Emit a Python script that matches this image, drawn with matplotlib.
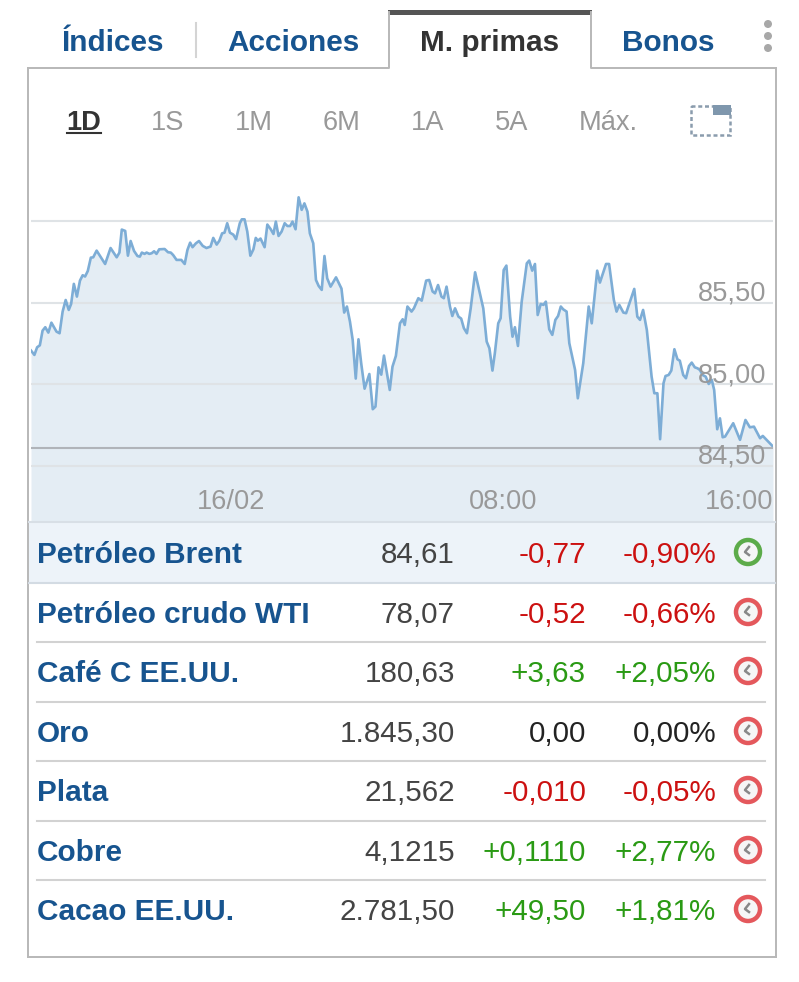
import matplotlib.pyplot as plt
from matplotlib.patches import Circle, Rectangle

plt.rcParams['font.family'] = ['Liberation Sans', 'DejaVu Sans']

# pestañas y periodos
tabs = ['Índices', 'Acciones', 'M. primas', 'Bonos']
periods = ['1D', '1S', '1M', '6M', '1A', '5A', 'Máx.']

# tabla
names = ['Petróleo Brent', 'Petróleo crudo WTI', 'Café C EE.UU.', 'Oro', 'Plata', 'Cobre', 'Cacao EE.UU.']
last = ['84,61', '78,07', '180,63', '1.845,30', '21,562', '4,1215', '2.781,50']
change = ['-0,77', '-0,52', '+3,63', '0,00', '-0,010', '+0,1110', '+49,50']
percent = ['-0,90%', '-0,66%', '+2,05%', '0,00%', '-0,05%', '+2,77%', '+1,81%']

# gráfico: horas desde las 00:00 del 16/02 y precio
hours = [
    -5.88, -5.78, -5.70, -5.62, -5.54, -5.46, -5.37, -5.28, -5.13, -5.04, -4.95, -4.86, -4.77, -4.70, -4.62,
    -4.53, -4.44, -4.36, -4.29, -4.21, -4.12, -4.05, -3.95, -3.70, -3.54, -3.36, -3.28, -3.21, -3.11, -3.03,
    -2.95, -2.85, -2.75, -2.68, -2.62, -2.54, -2.48, -2.40, -2.33, -2.26, -2.19, -2.11, -1.95, -1.85, -1.77,
    -1.70, -1.60, -1.46, -1.36, -1.28, -1.20, -1.13, -1.03, -0.94, -0.83, -0.72, -0.60, -0.52, -0.42, -0.34,
    -0.26, -0.19, -0.11, -0.03, 0.07, 0.15, 0.26, 0.32, 0.40, 0.48, 0.57, 0.66, 0.73, 0.79, 0.87,
    0.99, 1.07, 1.17, 1.25, 1.32, 1.40, 1.49, 1.58, 1.66, 1.74, 1.81, 1.90, 1.99, 2.08, 2.16,
    2.25, 2.32, 2.42, 2.50, 2.58, 2.67, 2.75, 2.83, 2.93, 3.09, 3.25, 3.33, 3.41, 3.50, 3.58,
    3.67, 3.75, 3.83, 3.93, 4.07, 4.17, 4.25, 4.34, 4.42, 4.50, 4.67, 4.75, 4.85, 4.97,
    5.05, 5.11, 5.19, 5.31, 5.38, 5.51, 5.61, 5.74, 5.83, 5.93, 6.00, 6.09, 6.19, 6.26, 6.34,
    6.44, 6.51, 6.59, 6.69, 6.77, 6.85, 6.94, 7.05, 7.18, 7.42, 7.52, 7.60, 7.69, 7.76, 7.86,
    7.93, 8.02, 8.10, 8.21, 8.28, 8.35, 8.44, 8.55, 8.70, 8.77, 8.86, 8.94, 9.02, 9.11, 9.19,
    9.26, 9.36, 9.45, 9.54, 9.62, 9.70, 9.77, 9.87, 9.95, 10.12, 10.20, 10.36, 10.52, 10.61, 10.77,
    10.85, 11.03, 11.12, 11.26, 11.34, 11.42, 11.54, 11.62, 11.86, 11.95, 12.03, 12.12, 12.23, 12.37, 12.45,
    12.54, 12.62, 12.72, 12.78, 12.87, 12.95, 13.04, 13.13, 13.20, 13.30, 13.38, 13.47, 13.55, 13.64, 13.72,
    13.79, 13.87, 13.96, 14.05, 14.14, 14.21, 14.30, 14.38, 14.46, 14.53, 14.77, 14.97, 15.13, 15.26, 15.38,
    15.56, 15.64, 15.75, 15.94,
]
prices = [
    85.208, 85.181, 85.228, 85.240, 85.330, 85.351, 85.318, 85.379, 85.324, 85.314, 85.447, 85.518, 85.457, 85.494, 85.617,
    85.539, 85.637, 85.670, 85.662, 85.696, 85.778, 85.780, 85.821, 85.739, 85.837, 85.780, 85.809, 85.950, 85.942, 85.790,
    85.880, 85.819, 85.788, 85.784, 85.809, 85.801, 85.809, 85.801, 85.805, 85.817, 85.801, 85.829, 85.831, 85.811, 85.809,
    85.794, 85.764, 85.764, 85.739, 85.825, 85.870, 85.842, 85.866, 85.880, 85.850, 85.837, 85.846, 85.899, 85.858, 85.882,
    85.927, 85.931, 85.989, 85.931, 85.919, 85.891, 85.989, 86.013, 86.013, 85.938, 85.790, 85.829, 85.899, 85.882, 85.895,
    85.842, 85.981, 85.952, 85.923, 85.999, 85.911, 85.938, 85.989, 85.972, 85.972, 85.999, 85.952, 86.148, 86.071, 86.111,
    86.060, 85.927, 85.866, 85.641, 85.604, 85.580, 85.788, 85.651, 85.600, 85.657, 85.588, 85.441, 85.478, 85.385, 85.273,
    85.036, 85.277, 85.130, 84.974, 85.064, 84.848, 84.864, 85.105, 85.060, 85.177, 84.966, 85.109, 85.175, 85.375,
    85.400, 85.365, 85.478, 85.447, 85.467, 85.529, 85.514, 85.637, 85.641, 85.570, 85.559, 85.610, 85.539, 85.529, 85.600,
    85.478, 85.420, 85.467, 85.416, 85.404, 85.345, 85.314, 85.467, 85.688, 85.467, 85.263, 85.222, 85.085, 85.191, 85.375,
    85.406, 85.702, 85.729, 85.416, 85.293, 85.351, 85.236, 85.508, 85.743, 85.760, 85.698, 85.739, 85.426, 85.494, 85.488,
    85.508, 85.338, 85.304, 85.396, 85.420, 85.478, 85.461, 85.447, 85.253, 85.089, 84.915, 85.130, 85.478, 85.375, 85.698,
    85.625, 85.739, 85.739, 85.518, 85.447, 85.488, 85.441, 85.437, 85.586, 85.416, 85.396, 85.457, 85.334, 85.048, 84.946,
    84.946, 84.664, 85.007, 85.052, 85.058, 85.085, 85.216, 85.154, 85.146, 85.058, 85.038, 85.113, 85.134, 85.105, 85.099,
    85.089, 85.058, 85.048, 85.003, 85.028, 84.966, 84.725, 84.792, 84.676, 84.680, 84.762, 84.660, 84.782, 84.737, 84.741,
    84.670, 84.684, 84.660, 84.619,
]
y_ticks = [84.5, 85.0, 85.5, 86.0]
y_tick_labels = ['84,50', '85,00', '85,50', '']
x_ticks = [0, 8, 16]
x_tick_labels = ['16/02', '08:00', '16:00']
prev_close = 84.61

W, H = 799, 982
BLUE = '#17548f'
GRAY = '#999999'
FRAME = '#b8b8b8'

fig = plt.figure(figsize=(W / 100, H / 100), dpi=100)

# capa de fondo en pixeles
bg = fig.add_axes([0, 0, 1, 1], zorder=0)
bg.set_xlim(0, W)
bg.set_ylim(H, 0)
bg.axis('off')

# primera fila resaltada
bg.add_patch(Rectangle((29, 523), 746, 60, fc='#edf3f9', ec='none'))

# el gráfico
x_left, x_right = -5.88, 15.94
y_bottom, y_top = 84.156, 86.377
ax = fig.add_axes([31 / W, 1 - 522 / H, (773 - 31) / W, (522 - 160) / H], zorder=1)
ax.patch.set_alpha(0)
ax.set_xlim(x_left, x_right)
ax.set_ylim(y_bottom, y_top)
ax.axis('off')

ax.fill_between(hours, prices, y_bottom, color='#e4edf4', lw=0, zorder=1)
for tick in y_ticks:
    ax.axhline(tick, color='#dfe3e6', lw=1.5, zorder=2)
ax.plot(hours, prices, color='#7dadd6', lw=1.9, solid_joinstyle='round', zorder=3)
ax.axhline(prev_close, color='#b0b4b9', lw=1.5, zorder=4)

for tick, label in zip(y_ticks, y_tick_labels):
    ax.annotate(label, xy=(1, tick), xycoords=ax.get_yaxis_transform(), xytext=(-5, 1.5), textcoords='offset points',
                ha='right', va='baseline', fontsize=19.6, color=GRAY, zorder=5)

for tick, label in zip(x_ticks, x_tick_labels):
    if tick > x_right:
        ax.text(x_right, 84.235, label, ha='right', va='baseline', fontsize=19.6, color=GRAY, zorder=5)
    else:
        ax.text(tick, 84.235, label, ha='center', va='baseline', fontsize=19.6, color=GRAY, zorder=5)

# capa de arriba: pestañas, marco, tabla
top = fig.add_axes([0, 0, 1, 1], zorder=2)
top.patch.set_alpha(0)
top.set_xlim(0, W)
top.set_ylim(H, 0)
top.axis('off')

# marco
top.plot([28, 28], [68, 957], color=FRAME, lw=1.4)
top.plot([776, 776], [68, 957], color=FRAME, lw=1.4)
top.plot([28, 776], [957, 957], color=FRAME, lw=1.4)
top.plot([28, 389, 389], [68, 68, 12], color=FRAME, lw=1.4)
top.plot([591, 591, 776], [12, 68, 68], color=FRAME, lw=1.4)
top.add_patch(Rectangle((388, 10), 204, 5, fc='#555555', ec='none'))
top.plot([196, 196], [23, 57], color='#d4d4d4', lw=1.5)

# pestañas
tab_x = [113, 293, 490, 668]
for x, tab in zip(tab_x, tabs):
    col = '#333333' if tab == 'M. primas' else BLUE
    top.text(x, 51, tab, ha='center', va='baseline', fontsize=21.4, fontweight='bold', color=col)

for y in [24, 36, 48]:
    top.add_patch(Circle((768, y), 4, fc='#a8a8a8', ec='none'))

# periodos
period_x = [84, 168, 254, 342, 428, 512, 608]
for x, p in zip(period_x, periods):
    if p == '1D':
        top.text(x, 130, p, ha='center', va='baseline', fontsize=19.6, fontweight='bold', color='#333333')
        top.plot([67, 101], [133, 133], color='#333333', lw=1.5)
    else:
        top.text(x, 130, p, ha='center', va='baseline', fontsize=19.6, color=GRAY)

# icono de pantalla
top.add_patch(Rectangle((691, 106), 39, 29, fc='none', ec='#8a9cad', lw=1.8, ls=(0, (1.6, 1.1))))
top.add_patch(Rectangle((713, 105), 18, 10, fc='#7f97ad', ec='none'))

# filas
row_y = [552, 612, 671, 731, 790, 850, 909]
sep_y = [522, 583, 642, 702, 761, 821, 880]


def sign_color(s):
    if s.startswith('+'):
        return '#2a9a14'
    if s.startswith('-'):
        return '#cc1111'
    return '#222222'


for i, y in enumerate(row_y):
    base = y + 11
    top.text(37, base, names[i], ha='left', va='baseline', fontsize=21.4, fontweight='bold', color=BLUE)
    top.text(455, base, last[i], ha='right', va='baseline', fontsize=21.3, color='#444444')
    top.text(586, base, change[i], ha='right', va='baseline', fontsize=21.3, color=sign_color(change[i]))
    top.text(716, base, percent[i], ha='right', va='baseline', fontsize=21.3, color=sign_color(percent[i]))

    ring = '#5cab4a' if i == 0 else '#e4585c'
    top.add_patch(Circle((748, y), 12, fc='#f6f6f6', ec=ring, lw=3.2))
    top.plot([749, 745, 749], [y - 5, y, y + 3], color='#888888', lw=1.8)

for i, y in enumerate(sep_y):
    if i == 0:
        top.plot([29, 775], [y, y], color='#d8dfe6', lw=1.5)
    elif i == 1:
        top.plot([29, 775], [y, y], color='#d3dbe3', lw=1.5)
    else:
        top.plot([37, 765], [y, y], color='#d2d2d2', lw=1.5)

fig.savefig('out.png', dpi=100)
